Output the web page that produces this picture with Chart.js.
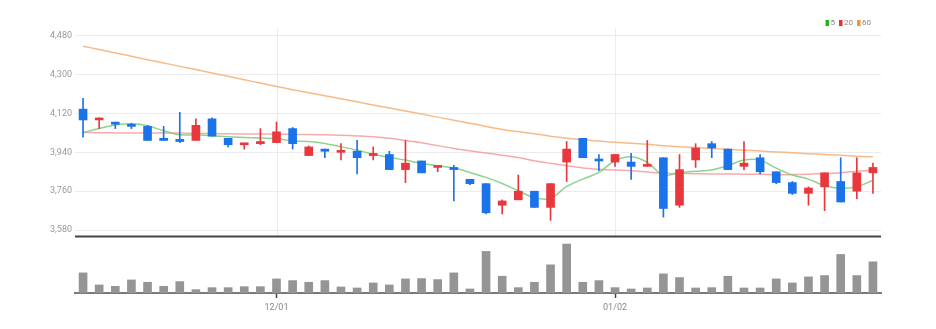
<!DOCTYPE html>
<html>
<head>
<meta charset="utf-8">
<script src="https://cdn.jsdelivr.net/npm/chart.js@4.4.1/dist/chart.umd.min.js"></script>
<style>
  html, body { margin: 0; padding: 0; background: #fff; }
  #wrap { position: relative; width: 936px; height: 329px; }
</style>
</head>
<body>
<div id="wrap"><canvas id="chart" width="936" height="329"></canvas></div>
<script>
// trading days shown on the chart
const dates = ['11/15','11/16','11/17','11/18','11/21','11/22','11/23','11/24','11/25','11/28',
  '11/29','11/30','12/01','12/02','12/05','12/06','12/07','12/08','12/09','12/12',
  '12/13','12/14','12/15','12/16','12/19','12/20','12/21','12/22','12/23','12/26',
  '12/27','12/28','12/29','01/02','01/03','01/04','01/05','01/06','01/09','01/10',
  '01/11','01/12','01/13','01/16','01/17','01/18','01/19','01/20','01/25','01/26'];

const openPrices = [4140,4090,4080,4070,4060,4005,4000,3995,4095,4005,3975,3980,3985,4050,3925,3955,3940,3945,3925,3930,
  3860,3900,3870,3870,3815,3795,3695,3720,3760,3685,3895,4005,3905,3895,3895,3875,3915,3695,3905,3980,
  3955,3875,3915,3850,3800,3750,3780,3805,3760,3845];
const closePrices = [4090,4095,4070,4060,3995,3995,3990,4065,4015,3975,3980,3990,4035,3980,3965,3945,3945,3915,3935,3860,
  3890,3845,3875,3860,3795,3660,3715,3760,3685,3795,3955,3915,3900,3930,3875,3880,3680,3860,3960,3960,
  3860,3890,3850,3800,3750,3775,3845,3710,3845,3870];
const highPrices = [4190,4100,4080,4075,4065,4060,4125,4095,4100,4005,3980,4050,4080,4055,3970,3955,3980,3995,3965,3945,
  3995,3900,3880,3880,3815,3795,3720,3835,3760,3795,3990,4005,3930,3930,3935,3995,3915,3930,3980,3990,
  3955,3990,3930,3850,3805,3780,3845,3915,3915,3890];
const lowPrices = [4010,4050,4050,4050,3995,3995,3985,3995,4015,3965,3955,3975,3985,3955,3925,3915,3905,3840,3905,3860,
  3800,3845,3850,3715,3790,3655,3655,3720,3685,3625,3805,3915,3855,3875,3815,3875,3640,3685,3870,3915,
  3860,3860,3840,3795,3745,3695,3670,3710,3725,3750];
const volumes = [60000,24000,20000,39000,32000,20000,34000,10000,16000,16000,19000,19000,42000,37000,32000,37000,18000,15000,30000,24000,
  42000,43000,40000,60000,12000,124000,50000,16000,32000,84000,146000,32000,37000,16000,12000,15000,57000,46000,15000,16000,
  50000,15000,15000,42000,30000,48000,52000,115000,52000,93000];

// moving averages as they appear on the chart
const ma5 = [4032,4050,4066,4072,4063,4040,4021,4021,4017,4012,4009,4006,4004,3993,3990,3981,3966,3950,3932,3916,
  3904,3889,3878,3867,3847,3824,3796,3762,3730,3727,3782,3816,3847,3901,3919,3893,3835,3845,3852,3858,
  3878,3904,3904,3867,3835,3816,3785,3773,3781,3811];
const ma20 = [4032,4031,4030,4030,4030,4029,4029,4028,4027,4026,4025,4025,4024,4023,4022,4021,4019,4016,4012,4005,
  3995,3984,3971,3958,3947,3937,3927,3916,3901,3889,3878,3868,3862,3858,3855,3849,3843,3842,3841,3840,
  3840,3839,3838,3836,3837,3839,3842,3846,3852,3858];
const ma60 = [4431,4416,4400,4385,4369,4354,4338,4323,4307,4292,4276,4261,4245,4230,4216,4202,4188,4174,4159,4145,
  4131,4117,4103,4089,4075,4060,4046,4036,4026,4015,4006,3998,3992,3987,3982,3977,3971,3966,3962,3958,
  3954,3950,3946,3942,3938,3934,3930,3927,3922,3919];

const priceTicks = [3580, 3760, 3940, 4120, 4300, 4480];
const shownDates = ['12/01', '01/02'];

const UP = '#e8383d';
const DOWN = '#1a73e8';
const FONT = "'Roboto', 'Liberation Sans', sans-serif";

const candleColors = openPrices.map((o, i) => closePrices[i] >= o ? UP : DOWN);

// pane separator, vertical date lines and the small MA legend
const paneDecor = {
  id: 'paneDecor',
  beforeDatasetsDraw(chart) {
    const { ctx, scales: { x, y } } = chart;
    ctx.save();
    ctx.strokeStyle = '#ececec';
    ctx.lineWidth = 1;
    x.ticks.forEach((t, i) => {
      const px = Math.round(x.getPixelForTick(i)) + 0.5;
      ctx.beginPath();
      ctx.moveTo(px, y.top);
      ctx.lineTo(px, y.bottom);
      ctx.stroke();
    });
    ctx.restore();
  },
  afterDatasetsDraw(chart) {
    const { ctx, chartArea, scales: { y } } = chart;
    ctx.save();
    ctx.fillStyle = '#444';
    ctx.fillRect(chartArea.left, y.bottom - 1.5, chartArea.right - chartArea.left, 2);
    ctx.restore();
  },
  afterDraw(chart) {
    const { ctx, chartArea } = chart;
    const items = chart.data.datasets.filter(d => d.legendColor);
    ctx.save();
    ctx.font = '8px ' + FONT;
    ctx.textBaseline = 'middle';
    const boxW = 3.5, gap = 1.5, itemGap = 4;
    const widths = items.map(d => boxW + gap + ctx.measureText(d.label).width);
    const total = widths.reduce((a, b) => a + b, 0) + itemGap * (items.length - 1);
    let cx = chartArea.right - 10 - total;
    const cy = 23;
    items.forEach((d, i) => {
      ctx.fillStyle = d.legendColor;
      ctx.fillRect(cx, cy - 3, boxW, 6);
      ctx.fillStyle = '#888';
      ctx.fillText(d.label, cx + boxW + gap, cy);
      cx += widths[i] + itemGap;
    });
    ctx.restore();
  }
};

new Chart(document.getElementById('chart'), {
  type: 'bar',
  data: {
    labels: dates,
    datasets: [
      {
        type: 'line', label: '5', data: ma5, yAxisID: 'y', order: 5,
        borderColor: 'rgba(120, 205, 120, 0.85)', legendColor: '#22b222',
        borderWidth: 1.5, pointRadius: 0, tension: 0.35
      },
      {
        type: 'line', label: '20', data: ma20, yAxisID: 'y', order: 5,
        borderColor: 'rgba(242, 150, 150, 0.8)', legendColor: '#ee2d2d',
        borderWidth: 1.5, pointRadius: 0, tension: 0.35
      },
      {
        type: 'line', label: '60', data: ma60, yAxisID: 'y', order: 5,
        borderColor: 'rgba(246, 180, 125, 0.9)', legendColor: '#f3952c',
        borderWidth: 1.5, pointRadius: 0, tension: 0.35
      },
      {
        label: 'wick', yAxisID: 'y', order: 3, grouped: false,
        data: lowPrices.map((l, i) => [l, highPrices[i]]),
        backgroundColor: candleColors, barThickness: 1, borderWidth: 0
      },
      {
        label: 'body', yAxisID: 'y', order: 2, grouped: false,
        data: openPrices.map((o, i) => [o, closePrices[i]]),
        backgroundColor: candleColors, barThickness: 8, borderWidth: 0, minBarLength: 2
      },
      {
        label: 'volume', yAxisID: 'vol', order: 1, grouped: false,
        data: volumes,
        backgroundColor: '#959595', barThickness: 8, borderWidth: 0
      }
    ]
  },
  options: {
    responsive: false,
    animation: false,
    layout: { padding: { top: 29, right: 55, left: 0, bottom: 0 } },
    plugins: {
      legend: { display: false },
      tooltip: { enabled: false }
    },
    scales: {
      x: {
        type: 'category',
        offset: true,
        grid: { offset: false, drawOnChartArea: false, drawTicks: true, tickLength: 5, tickColor: '#444', tickWidth: 1.5 },
        border: { display: true, color: '#7a7a7a', width: 2 },
        ticks: {
          autoSkip: false, maxRotation: 0, padding: 4, color: '#888',
          font: { family: FONT, size: 9 }
        },
        afterBuildTicks: s => { s.ticks = s.ticks.filter(t => shownDates.includes(dates[t.value])); },
        afterFit: s => { s.height = 36; }
      },
      vol: {
        type: 'linear', position: 'left', stack: 'panes', stackWeight: 56,
        min: 0, max: 167000,
        ticks: { display: false },
        grid: { display: false },
        border: { display: false },
        afterFit: s => { s.width = 75; }
      },
      y: {
        type: 'linear', position: 'left', stack: 'panes', stackWeight: 208,
        min: 3548, max: 4511,
        afterBuildTicks: s => { s.ticks = priceTicks.map(v => ({ value: v })); },
        ticks: {
          color: '#999', padding: 3,
          font: { family: FONT, size: 9 },
          callback: v => v.toLocaleString('en-US')
        },
        grid: { color: '#ececec', drawTicks: false, lineWidth: 1 },
        border: { display: false },
        afterFit: s => { s.width = 75; }
      }
    }
  },
  plugins: [paneDecor]
});
</script>
</body>
</html>
